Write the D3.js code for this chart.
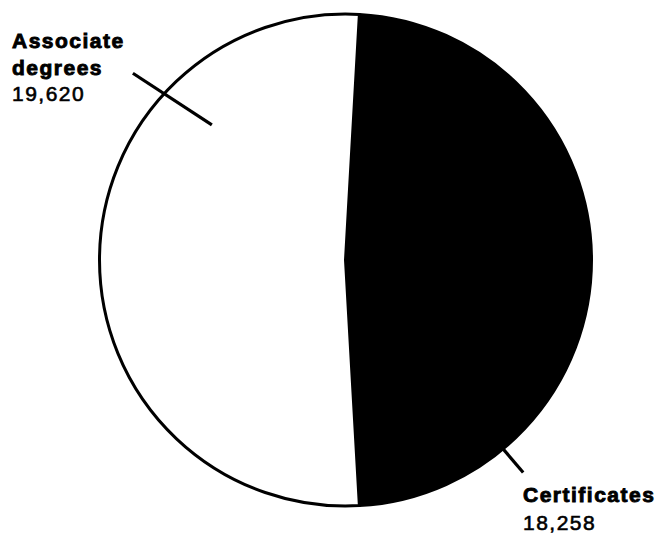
<!DOCTYPE html>
<html>
<head>
<meta charset="utf-8">
<script src="https://cdn.jsdelivr.net/npm/d3@7/dist/d3.min.js"></script>
<style>
  html, body { margin: 0; padding: 0; background: #fff; }
  svg { display: block; }
  text { font-family: "Liberation Sans", Arial, Helvetica, sans-serif; fill: #000; }
</style>
</head>
<body>
<svg id="chart" width="659" height="536"></svg>
<script>
// Data
const categories = ["Certificates", "Associate degrees"];
const values = [18258, 19620];
const valueLabels = ["18,258", "19,620"];
const colors = ["#000000", "#ffffff"];

const svg = d3.select("#chart");
const cx = 345.5, cy = 260, r = 246;

const total = d3.sum(values);
const certAngle = 2 * Math.PI * values[0] / total;
const start = (Math.PI - certAngle) / 2;

const pie = d3.pie().sort(null).value(d => d.value)
  .startAngle(start).endAngle(start + 2 * Math.PI);
const data = categories.map((c, i) => ({ name: c, value: values[i], color: colors[i], label: valueLabels[i] }));
const arcs = pie(data);
const arc = d3.arc().innerRadius(0).outerRadius(r);

const g = svg.append("g").attr("transform", `translate(${cx},${cy})`);
g.selectAll("path.slice").data(arcs).join("path")
  .attr("class", "slice")
  .attr("d", arc)
  .attr("fill", d => d.data.color)
  .attr("stroke", "#000")
  .attr("stroke-width", 3)
  .attr("stroke-linejoin", "round");

// polar helper (angle in degrees clockwise from top)
const pt = (deg, rad) => {
  const a = deg * Math.PI / 180;
  return [rad * Math.sin(a), -rad * Math.cos(a)];
};

// leader lines
const leaders = [
  { from: pt(-44.7, 190), to: pt(-48.7, 283) },
  { from: pt(140.3, 200), to: pt(140.1, 277) }
];
g.selectAll("line.leader").data(leaders).join("line")
  .attr("class", "leader")
  .attr("x1", d => d.from[0]).attr("y1", d => d.from[1])
  .attr("x2", d => d.to[0]).attr("y2", d => d.to[1])
  .attr("stroke", "#000").attr("stroke-width", 3.2);

// labels
const fs = 21, ls = 1.5;
const addLabel = (x, lines) => {
  const t = svg.append("text").attr("font-size", fs).attr("letter-spacing", ls);
  lines.forEach(l => {
    t.append("tspan").attr("x", x).attr("y", l.y)
      .attr("font-weight", l.bold ? "bold" : "normal")
      .attr("stroke", "#000").attr("stroke-width", l.bold ? 0.9 : 0.6)
      .text(l.text);
  });
};
addLabel(12, [
  { y: 48, bold: true, text: "Associate" },
  { y: 75, bold: true, text: "degrees" },
  { y: 101, bold: false, text: data[1].label }
]);
addLabel(523, [
  { y: 502, bold: true, text: data[0].name },
  { y: 530, bold: false, text: data[0].label }
]);
</script>
</body>
</html>
